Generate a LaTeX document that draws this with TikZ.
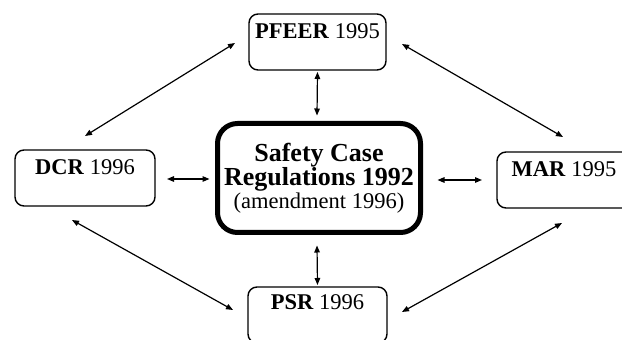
\documentclass[tikz,border=0pt]{standalone}
\usepackage{fontspec}
\setmainfont{Liberation Serif}
\usetikzlibrary{arrows.meta,calc}
\begin{document}
\begin{tikzpicture}[x=1pt,y=1pt,
  regbox/.style={draw, line width=1.4pt, rounded corners=9pt, inner sep=0pt, outer sep=0pt,
    minimum height=56pt, text height=25pt, text depth=31pt, font=\fontsize{22.5}{24}\selectfont},
  mainbox/.style={draw, line width=5pt, rounded corners=20pt, inner sep=0pt, outer sep=0pt,
    minimum width=203pt, minimum height=109pt, align=center},
  link/.style={line width=1.2pt, {Triangle[length=7pt,width=5.5pt]}-{Triangle[length=7pt,width=5.5pt]}}
]
\useasboundingbox (0,0) rectangle (622,340);
\node[regbox, minimum width=137pt] (pfeer) at (317.5,298) {\textbf{PFEER} 1995};
\node[regbox, minimum width=140pt] (dcr) at (85,162) {\textbf{DCR} 1996};
\node[regbox, minimum width=134pt] (mar) at (564,160) {\textbf{MAR} 1995};
\node[regbox, minimum width=139pt, text height=23pt, text depth=33pt] (psr) at (317.5,25) {\textbf{PSR} 1996};
\node[mainbox] (main) at (319,162) {\fontsize{26}{29}\selectfont\textbf{Safety Case}\\
  \fontsize{26}{29}\selectfont\textbf{Regulations 1992}\\
  \fontsize{22.5}{26}\selectfont(amendment 1996)};
% vertical and horizontal links
\draw[link] ($(pfeer.south)+(0,-2)$) -- ($(main.north)+(-2,8)$);
\draw[link] ($(main.south)+(-2,-13)$) -- ($(psr.north)+(0,2)$);
\draw[link] ($(dcr.east)+(12,-1)$) -- ($(main.west)+(-8,-1)$);
\draw[link] ($(main.east)+(17,-2)$) -- ($(mar.west)+(-15,0)$);
% diagonal links
\draw[link] ($(pfeer.west)+(-14,-1)$) -- ($(dcr.north)+(0,14)$);
\draw[link] ($(pfeer.east)+(16,-2)$) -- ($(mar.north)+(-1,15)$);
\draw[link] ($(dcr.south)+(-13,-14)$) -- ($(psr.west)+(-15,5)$);
\draw[link] ($(mar.south)+(-2,-15)$) -- ($(psr.east)+(15,3)$);
\end{tikzpicture}
\end{document}
